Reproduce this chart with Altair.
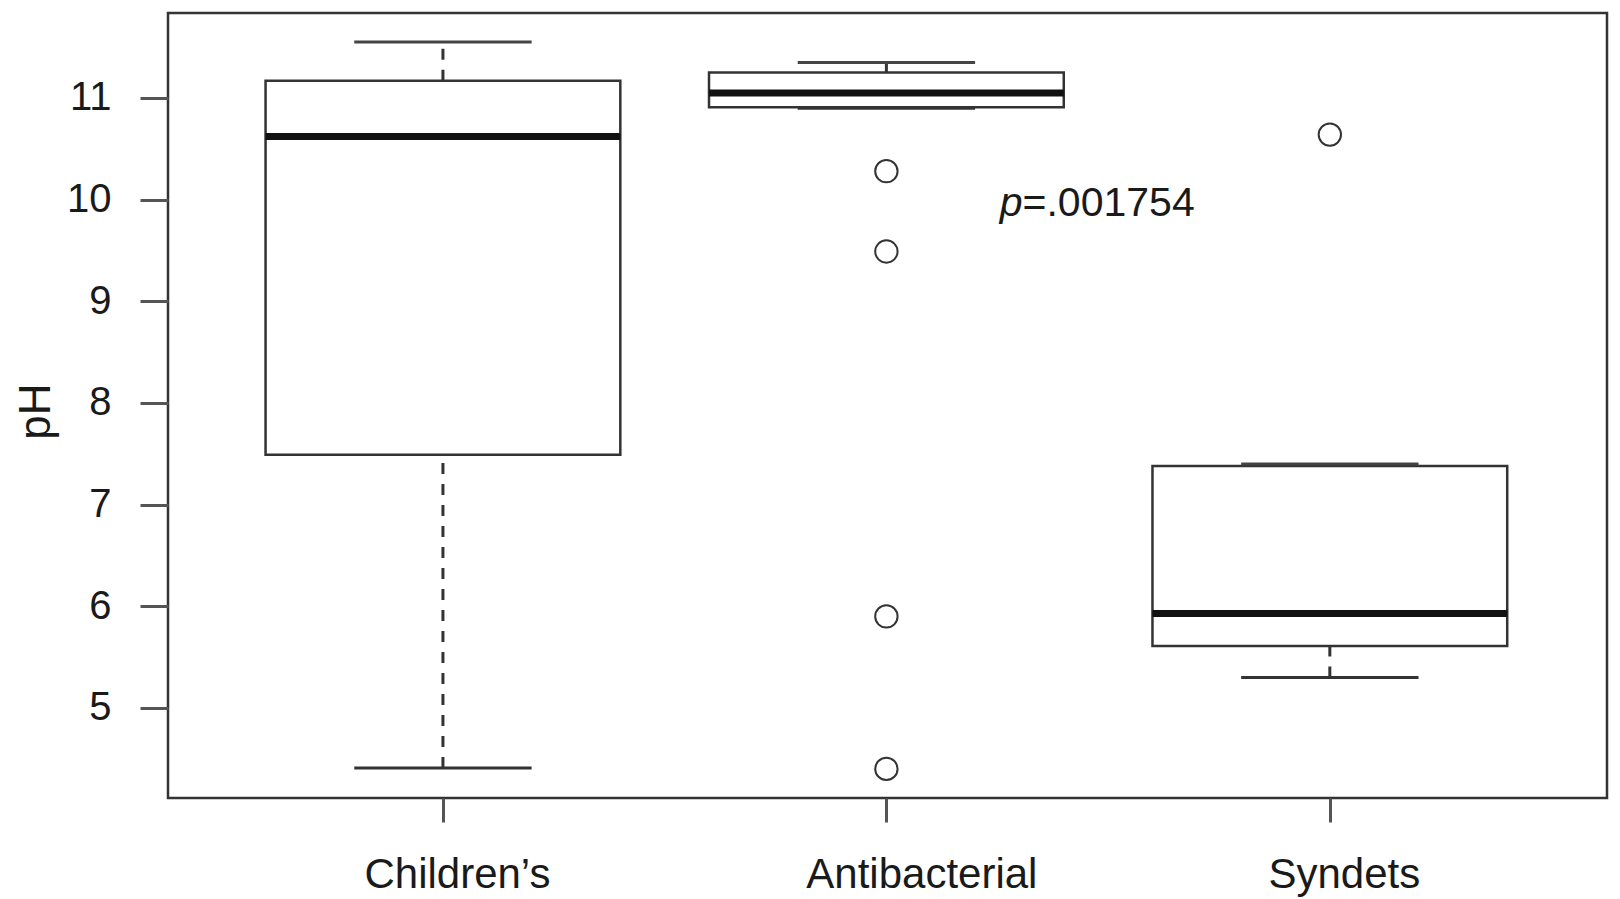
import json
import altair as alt
import pandas as pd

# ---- data ----
categories = ["Children’s", "Antibacterial", "Syndets"]
lower_whisker = [4.41, 10.90, 5.30]
q1 = [7.49, 10.91, 5.61]
median = [10.62, 11.05, 5.93]
q3 = [11.17, 11.25, 7.38]
upper_whisker = [11.55, 11.35, 7.40]

outlier_group = ["Antibacterial", "Antibacterial", "Antibacterial", "Antibacterial", "Syndets"]
outlier_value = [10.28, 9.49, 5.90, 4.40, 10.64]

y_ticks = [5, 6, 7, 8, 9, 10, 11]
p_label_italic = "p"
p_label_rest = "=.001754"
p_pos = (2.307, 9.835)

# ---- tables ----
box_df = pd.DataFrame({
    "group": categories,
    "pos": list(range(1, len(categories) + 1)),
    "lw": lower_whisker,
    "q1": q1,
    "med": median,
    "q3": q3,
    "uw": upper_whisker,
})
out_df = pd.DataFrame({
    "group": outlier_group,
    "value": outlier_value,
})
out_df["pos"] = out_df["group"].map({c: i + 1 for i, c in enumerate(categories)})
txt_df = pd.DataFrame({"x": [p_pos[0]], "y": [p_pos[1]]})

FONT = "Liberation Sans"
TXT = "#1a1a1a"

xscale = alt.Scale(domain=[0.38, 3.625], nice=False, zero=False)
yscale = alt.Scale(domain=[4.114, 11.836], nice=False, zero=False)

xaxis = alt.Axis(
    values=[1, 2, 3],
    labelExpr=json.dumps(categories, ensure_ascii=False) + "[datum.value - 1]",
    title=None,
    grid=False,
    domain=False,
    ticks=True,
    tickSize=24,
    tickWidth=3,
    tickColor="#555555",
    labelFont=FONT,
    labelFontSize=42,
    labelColor=TXT,
    labelBaseline="alphabetic",
    labelPadding=65,
    labelLimit=0,
    labelOverlap=False,
    labelOffset={"condition": {"test": "datum.value == 2", "value": 35}, "value": 14},
)
yaxis = alt.Axis(
    values=y_ticks,
    format="d",
    title="pH",
    grid=False,
    domain=False,
    tickSize=28,
    tickWidth=3,
    tickColor="#555555",
    labelFont=FONT,
    labelFontSize=40,
    labelColor=TXT,
    labelPadding=29,
    labelLimit=0,
    titleFont=FONT,
    titleFontSize=44,
    titleFontWeight="normal",
    titleColor=TXT,
    titleAngle=270,
    titleBaseline="alphabetic",
    titleAlign="center",
    titleX=-119,
    titleY=398,
)

base = alt.Chart(box_df)

# whiskers (dashed)
whisk_up = base.mark_rule(color="#333333", strokeWidth=3, strokeDash=[11, 10]).encode(
    x=alt.X("pos:Q", scale=xscale, axis=xaxis),
    y=alt.Y("q3:Q", scale=yscale, axis=yaxis),
    y2="uw:Q",
)
whisk_lo = base.mark_rule(color="#333333", strokeWidth=3, strokeDash=[11, 10]).encode(
    x=alt.X("pos:Q", scale=xscale),
    y=alt.Y("lw:Q", scale=yscale),
    y2="q1:Q",
)

# caps
caps = base.transform_calculate(
    c0="datum.pos - 0.2", c1="datum.pos + 0.2"
)
cap_up = caps.mark_rule(color="#444444", strokeWidth=3).encode(
    x=alt.X("c0:Q", scale=xscale), x2="c1:Q", y=alt.Y("uw:Q", scale=yscale)
)
cap_lo = caps.mark_rule(color="#333333", strokeWidth=3).encode(
    x=alt.X("c0:Q", scale=xscale), x2="c1:Q", y=alt.Y("lw:Q", scale=yscale)
)

# boxes
boxes = base.transform_calculate(
    b0="datum.pos - 0.4", b1="datum.pos + 0.4"
)
box = boxes.mark_rect(fill="white", stroke="#333333", strokeWidth=2.5).encode(
    x=alt.X("b0:Q", scale=xscale), x2="b1:Q",
    y=alt.Y("q1:Q", scale=yscale), y2="q3:Q",
)
med = boxes.mark_rule(color="#111111", strokeWidth=7).encode(
    x=alt.X("b0:Q", scale=xscale), x2="b1:Q", y=alt.Y("med:Q", scale=yscale)
)

# outliers
pts = alt.Chart(out_df).mark_point(
    shape="circle", filled=False, size=500, stroke="#333333", strokeWidth=2, opacity=1
).encode(
    x=alt.X("pos:Q", scale=xscale),
    y=alt.Y("value:Q", scale=yscale),
)

# p-value annotation
p_it = alt.Chart(txt_df).mark_text(
    text=p_label_italic, font=FONT, fontSize=41, fontStyle="italic",
    align="right", baseline="alphabetic", color=TXT,
).encode(x=alt.X("x:Q", scale=xscale), y=alt.Y("y:Q", scale=yscale))
p_rest = alt.Chart(txt_df).mark_text(
    text=p_label_rest, font=FONT, fontSize=41,
    align="left", baseline="alphabetic", color=TXT,
).encode(x=alt.X("x:Q", scale=xscale), y=alt.Y("y:Q", scale=yscale))

chart = alt.layer(
    whisk_up, whisk_lo, box, cap_up, cap_lo, med, pts, p_it, p_rest
).properties(
    width=1439,
    height=785,
    autosize=alt.AutoSizeParams(type="none"),
    padding={"left": 160, "top": 5, "right": 5, "bottom": 100},
    background="white",
).configure_view(
    stroke="#333333",
    strokeWidth=2.5,
)

chart.save("out.html", embed_options={"renderer": "svg", "actions": False})
